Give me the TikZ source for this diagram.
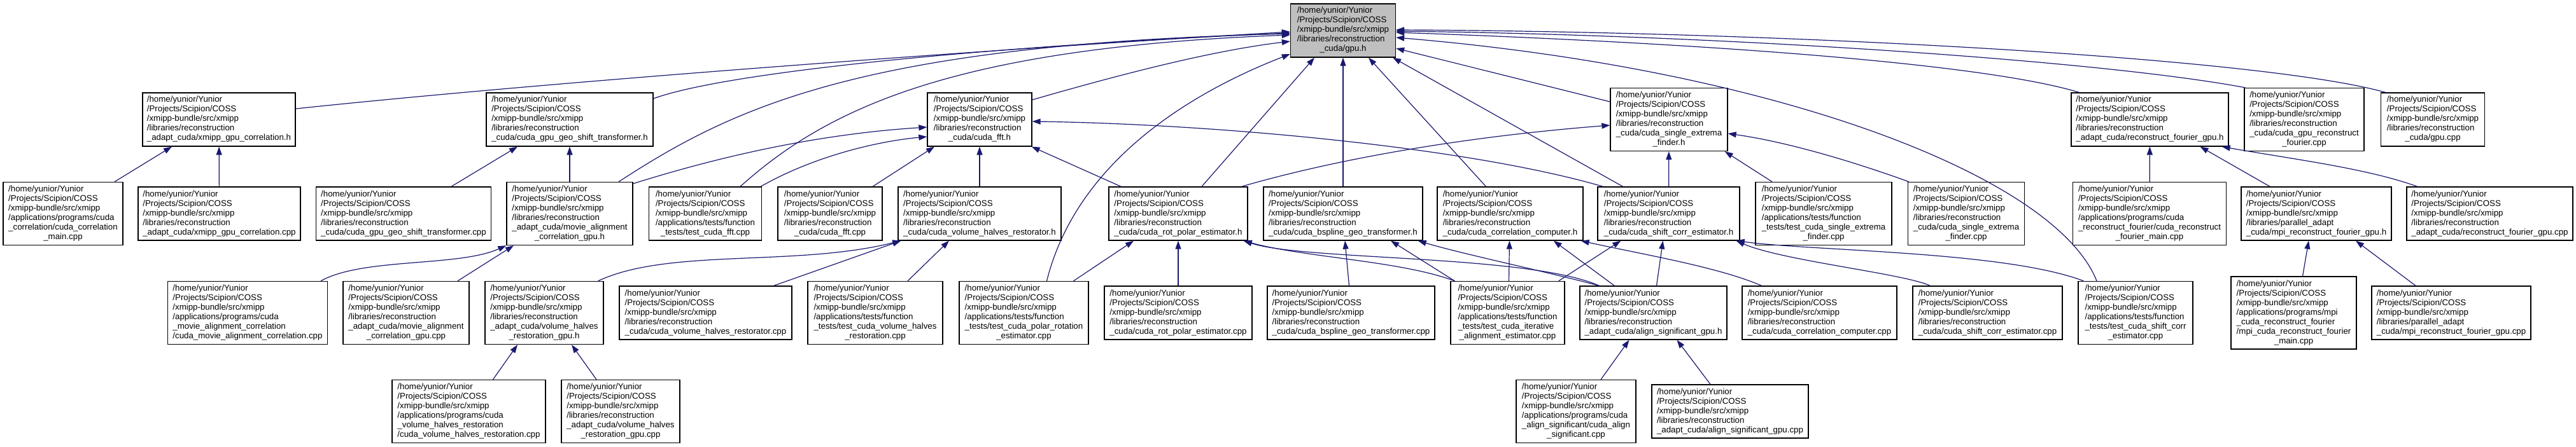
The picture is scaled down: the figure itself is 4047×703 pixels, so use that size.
\documentclass[tikz,border=0pt]{standalone}
\usepackage{fontspec}
\setmainfont{Liberation Sans}
\usetikzlibrary{calc,arrows.meta}
\definecolor{edgeblue}{HTML}{191970}
\definecolor{rootgrey}{HTML}{BFBFBF}
\newcommand{\lab}[2]{\begin{tabular}{@{}l@{}}/home/yunior/Yunior\\/Projects/Scipion/COSS\\/xmipp-bundle/src/xmipp\\#1\multicolumn{1}{@{}c@{}}{#2}\end{tabular}}
\begin{document}
\begin{tikzpicture}[x=1pt,y=-1pt,
  filebox/.style={draw=black, line width=1.3pt, fill=white, inner xsep=6pt, inner ysep=0pt,
    font=\fontsize{13.3}{15}\selectfont},
  fb/.style 2 args={filebox, minimum width=#1pt, minimum height=#2pt},
  dep/.style={draw=edgeblue, line width=1.2pt, -{Triangle[length=13pt,width=9pt]}}]
\fill[white] (0,0) rectangle (4047,703);
\useasboundingbox (0,0) rectangle (4047,703);

% ---------- row 0 ----------
\node[fb={165}{84}, fill=rootgrey] (root) at (2110,48) {\lab{/libraries/reconstruction\\}{\_cuda/gpu.h}};

% ---------- row 1 ----------
\node[fb={240}{84}] (xgch) at (344,188) {\lab{/libraries/reconstruction\\}{\_adapt\_cuda/xmipp\_gpu\_correlation.h}};
\node[fb={262}{84}] (geoh) at (895,188) {\lab{/libraries/reconstruction\\}{\_cuda/cuda\_gpu\_geo\_shift\_transformer.h}};
\node[fb={164}{84}] (ffth) at (1539,188) {\lab{/libraries/reconstruction\\}{\_cuda/cuda\_fft.h}};
\node[fb={184}{99}] (sefh) at (2622,188) {\lab{/libraries/reconstruction\\\_cuda/cuda\_single\_extrema\\}{\_finder.h}};
\node[fb={247}{84}] (rfgh) at (3377.5,188) {\lab{/libraries/reconstruction\\}{\_adapt\_cuda/reconstruct\_fourier\_gpu.h}};
\node[fb={188}{99}] (cgrfc) at (3620,188) {\lab{/libraries/reconstruction\\\_cuda/cuda\_gpu\_reconstruct\\}{\_fourier.cpp}};
\node[fb={163}{84}] (gpuc) at (3822,188) {\lab{/libraries/reconstruction\\}{\_cuda/gpu.cpp}};

% ---------- row 2 ----------
\node[fb={188}{99}] (ccmc) at (99,336) {\lab{/applications/programs/cuda\\\_correlation/cuda\_correlation\\}{\_main.cpp}};
\node[fb={255}{84}] (xgcc) at (344.5,336) {\lab{/libraries/reconstruction\\}{\_adapt\_cuda/xmipp\_gpu\_correlation.cpp}};
\node[fb={275}{84}] (geoc) at (634,336) {\lab{/libraries/reconstruction\\}{\_cuda/cuda\_gpu\_geo\_shift\_transformer.cpp}};
\node[fb={198}{99}] (mach) at (895,336) {\lab{/libraries/reconstruction\\\_adapt\_cuda/movie\_alignment\\}{\_correlation\_gpu.h}};
\node[fb={177}{84}] (tfftc) at (1108,336) {\lab{/applications/tests/function\\}{\_tests/test\_cuda\_fft.cpp}};
\node[fb={164}{84}] (fftc) at (1304,336) {\lab{/libraries/reconstruction\\}{\_cuda/cuda\_fft.cpp}};
\node[fb={256}{84}] (vhrh) at (1539,336) {\lab{/libraries/reconstruction\\}{\_cuda/cuda\_volume\_halves\_restorator.h}};
\node[fb={218}{84}] (rpeh) at (1851,336) {\lab{/libraries/reconstruction\\}{\_cuda/cuda\_rot\_polar\_estimator.h}};
\node[fb={250}{84}] (bsph) at (2110,336) {\lab{/libraries/reconstruction\\}{\_cuda/cuda\_bspline\_geo\_transformer.h}};
\node[fb={229}{84}] (ccch) at (2372.5,336) {\lab{/libraries/reconstruction\\}{\_cuda/cuda\_correlation\_computer.h}};
\node[fb={223}{84}] (sceh) at (2621.5,336) {\lab{/libraries/reconstruction\\}{\_cuda/cuda\_shift\_corr\_estimator.h}};
\node[fb={214}{99}] (tsefc) at (2865,336) {\lab{/applications/tests/function\\\_tests/test\_cuda\_single\_extrema\\}{\_finder.cpp}};
\node[fb={183}{99}] (sefc) at (3089,336) {\lab{/libraries/reconstruction\\\_cuda/cuda\_single\_extrema\\}{\_finder.cpp}};
\node[fb={241}{99}] (crfmc) at (3377,336) {\lab{/applications/programs/cuda\\\_reconstruct\_fourier/cuda\_reconstruct\\}{\_fourier\_main.cpp}};
\node[fb={236}{84}] (mrfgh) at (3639,336) {\lab{/libraries/parallel\_adapt\\}{\_cuda/mpi\_reconstruct\_fourier\_gpu.h}};
\node[fb={261}{84}] (rfgc) at (3911.5,336) {\lab{/libraries/reconstruction\\}{\_adapt\_cuda/reconstruct\_fourier\_gpu.cpp}};

% ---------- row 3 ----------
\node[fb={251}{99}] (cmacc) at (389,492) {\lab{/applications/programs/cuda\\\_movie\_alignment\_correlation\\}{/cuda\_movie\_alignment\_correlation.cpp}};
\node[fb={198}{99}] (macgc) at (638,492) {\lab{/libraries/reconstruction\\\_adapt\_cuda/movie\_alignment\\}{\_correlation\_gpu.cpp}};
\node[fb={186}{99}] (vhrgh) at (855,492) {\lab{/libraries/reconstruction\\\_adapt\_cuda/volume\_halves\\}{\_restoration\_gpu.h}};
\node[fb={271}{84}] (vhrc) at (1108.5,492) {\lab{/libraries/reconstruction\\}{\_cuda/cuda\_volume\_halves\_restorator.cpp}};
\node[fb={212}{99}] (tvhrc) at (1375,492) {\lab{/applications/tests/function\\\_tests/test\_cuda\_volume\_halves\\}{\_restoration.cpp}};
\node[fb={203}{99}] (tprec) at (1608.5,492) {\lab{/applications/tests/function\\\_tests/test\_cuda\_polar\_rotation\\}{\_estimator.cpp}};
\node[fb={232}{84}] (rpec) at (1851,492) {\lab{/libraries/reconstruction\\}{\_cuda/cuda\_rot\_polar\_estimator.cpp}};
\node[fb={263}{84}] (bspc) at (2122.5,492) {\lab{/libraries/reconstruction\\}{\_cuda/cuda\_bspline\_geo\_transformer.cpp}};
\node[fb={179}{99}] (tiaec) at (2368.5,492) {\lab{/applications/tests/function\\\_tests/test\_cuda\_iterative\\}{\_alignment\_estimator.cpp}};
\node[fb={231}{84}] (asgh) at (2597.5,492) {\lab{/libraries/reconstruction\\}{\_adapt\_cuda/align\_significant\_gpu.h}};
\node[fb={243}{84}] (cccc) at (2858.5,492) {\lab{/libraries/reconstruction\\}{\_cuda/cuda\_correlation\_computer.cpp}};
\node[fb={235}{84}] (scec) at (3122.5,492) {\lab{/libraries/reconstruction\\}{\_cuda/cuda\_shift\_corr\_estimator.cpp}};
\node[fb={180}{99}] (tscec) at (3355,492) {\lab{/applications/tests/function\\\_tests/test\_cuda\_shift\_corr\\}{\_estimator.cpp}};
\node[fb={197}{114}] (mcrfmc) at (3603.5,492) {\lab{/applications/programs/mpi\\\_cuda\_reconstruct\_fourier\\/mpi\_cuda\_reconstruct\_fourier\\}{\_main.cpp}};
\node[fb={250}{84}] (mrfgc) at (3851,492) {\lab{/libraries/parallel\_adapt\\}{\_cuda/mpi\_reconstruct\_fourier\_gpu.cpp}};

% ---------- row 4 ----------
\node[fb={241}{99}] (cvhrc) at (736.5,647) {\lab{/applications/programs/cuda\\\_volume\_halves\_restoration\\}{/cuda\_volume\_halves\_restoration.cpp}};
\node[fb={186}{99}] (vhrgc) at (975,647) {\lab{/libraries/reconstruction\\\_adapt\_cuda/volume\_halves\\}{\_restoration\_gpu.cpp}};
\node[fb={188}{99}] (casc) at (2476,647) {\lab{/applications/programs/cuda\\\_align\_significant/cuda\_align\\}{\_significant.cpp}};
\node[fb={246}{84}] (asgc) at (2718,647) {\lab{/libraries/reconstruction\\}{\_adapt\_cuda/align\_significant\_gpu.cpp}};

% ---------- edges into gpu.h ----------
\draw[dep] ($(xgch.east)+(0,-17)$) .. controls (900,125) and (1600,75) .. ($(root.west)+(0,2)$);
\draw[dep] ($(geoh.east)+(0,-33)$) .. controls (1150,110) and (1600,70) .. ($(root.west)+(0,4)$);
\draw[dep] ($(mach.north)+(77,0)$) .. controls (1150,170) and (1350,70) .. ($(root.west)+(0,5)$);
\draw[dep] ($(tfftc.north)+(55,0)$) .. controls (1300,170) and (1500,75) .. ($(root.west)+(0,7)$);
\draw[dep] ($(ffth.east)+(0,-31)$) .. controls (1750,120) and (1900,80) .. ($(root.west)+(0,17)$);
\draw[dep] ($(tprec.north)+(36,0)$) .. controls (1690,260) and (1860,150) .. ($(root.west)+(0,37)$);
\draw[dep] ($(rpeh.north)+(37,0)$) -- ($(root.south)+(-45,0)$);
\draw[dep] (bsph) -- (root);
\draw[dep] ($(ccch.north)+(-38,0)$) -- ($(root.south)+(40,0)$);
\draw[dep] ($(sceh.north)+(-72,0)$) -- ($(root.south east)+(-5,0)$);
\draw[dep] ($(sefh.west)+(0,-28)$) -- ($(root.east)+(0,28)$);
\draw[dep] ($(tscec.north)+(-61,0)$) .. controls (3230,280) and (2800,110) .. ($(root.east)+(0,11)$);
\draw[dep] ($(rfgh.north)+(-111,0)$) .. controls (3100,95) and (2600,65) .. ($(root.east)+(0,3)$);
\draw[dep] ($(cgrfc.north west)+(2,0)$) .. controls (3300,95) and (2700,55) .. ($(root.east)+(0,1)$);
\draw[dep] ($(gpuc.north west)+(8,0)$) .. controls (3550,90) and (2800,50) .. ($(root.east)+(0,-1)$);

% ---------- row 2 -> row 1 ----------
\draw[dep] ($(ccmc.north)+(81,0)$) -- ($(xgch.south)+(-74,0)$);
\draw[dep] (xgcc) -- (xgch);
\draw[dep] ($(geoc.north)+(75,0)$) -- ($(geoh.south)+(-82,0)$);
\draw[dep] (mach) -- (geoh);
\draw[dep] ($(mach.north east)+(0,3)$) .. controls (1150,240) and (1300,210) .. ($(ffth.west)+(0,12)$);
\draw[dep] ($(tfftc.north east)+(-2,0)$) .. controls (1280,245) and (1380,222) .. ($(ffth.west)+(0,27)$);
\draw[dep] ($(fftc.north)+(67,0)$) -- ($(ffth.south)+(-71,0)$);
\draw[dep] (vhrh) -- (ffth);
\draw[dep] ($(rpeh.north)+(-90,0)$) -- ($(ffth.south east)+(-1,0)$);
\draw[dep] ($(sceh.north west)+(9,0)$) .. controls (2300,230) and (1900,195) .. ($(ffth.east)+(0,3)$);
\draw[dep] ($(rpeh.north east)+(-10,0)$) .. controls (2100,250) and (2300,215) .. ($(sefh.west)+(0,9)$);
\draw[dep] (sceh) -- (sefh);
\draw[dep] ($(tsefc.north)+(-81,0)$) -- ($(sefh.south east)+(-5,0)$);
\draw[dep] ($(sefc.north west)+(2,0)$) .. controls (2900,250) and (2800,222) .. ($(sefh.east)+(0,22)$);
\draw[dep] (crfmc) -- (rfgh);
\draw[dep] ($(mrfgh.north)+(-73,0)$) -- ($(rfgh.south)+(79,0)$);
\draw[dep] ($(rfgc.north)+(-114,0)$) .. controls (3720,265) and (3600,250) .. ($(rfgh.south east)+(-11,0)$);

% ---------- row 3 -> row 2 ----------
\draw[dep] ($(cmacc.north)+(115,0)$) .. controls (570,405) and (720,420) .. (mach.south west);
\draw[dep] ($(macgc.north)+(81,0)$) -- ($(mach.south)+(-88,0)$);
\draw[dep] ($(vhrgh.north east)+(-9,0)$) .. controls (1050,390) and (1250,420) .. ($(vhrh.south west)+(5,0)$);
\draw[dep] ($(vhrc.north)+(107,0)$) -- ($(vhrh.south west)+(5,0)$);
\draw[dep] ($(tvhrc.north)+(51,0)$) -- ($(vhrh.south)+(-48,0)$);
\draw[dep] ($(tprec.north)+(78,0)$) -- ($(rpeh.south)+(-70,0)$);
\draw[dep] (rpec) -- (rpeh);
\draw[dep] ($(tiaec.north west)+(7,0)$) .. controls (2200,410) and (2050,405) .. ($(rpeh.south east)+(-7,0)$);
\draw[dep] ($(asgh.north west)+(31,0)$) .. controls (2400,400) and (2050,410) .. ($(rpeh.south east)+(-7,0)$);
\draw[dep] ($(bspc.north)+(-3,0)$) -- ($(bsph.south)+(3,0)$);
\draw[dep] ($(tiaec.north west)+(7,0)$) -- ($(bsph.south)+(75,0)$);
\draw[dep] ($(asgh.north west)+(31,0)$) .. controls (2420,425) and (2300,400) .. ($(bsph.south east)+(-8,0)$);
\draw[dep] ($(tiaec.north)+(2,0)$) -- ($(ccch.south)+(-1,0)$);
\draw[dep] ($(asgh.north west)+(55,0)$) -- ($(ccch.south east)+(-47,0)$);
\draw[dep] ($(cccc.north)+(-91,0)$) .. controls (2700,420) and (2580,400) .. ($(ccch.south east)+(-4,0)$);
\draw[dep] ($(tiaec.north east)+(-10,0)$) -- ($(sceh.south west)+(37,0)$);
\draw[dep] ($(asgh.north)+(5,0)$) -- ($(sceh.south)+(-9,0)$);
\draw[dep] ($(scec.north west)+(28,0)$) .. controls (2990,430) and (2800,410) .. ($(sceh.south east)+(-6,0)$);
\draw[dep] ($(tscec.north west)+(9,0)$) .. controls (3150,395) and (2850,395) .. ($(sceh.south east)+(-6,0)$);
\draw[dep] ($(mcrfmc.north)+(14,0)$) -- ($(mrfgh.south)+(-12,0)$);
\draw[dep] ($(mrfgc.north)+(-56,0)$) -- ($(mrfgh.south)+(62,0)$);

% ---------- row 4 -> row 3 ----------
\draw[dep] ($(cvhrc.north)+(38,0)$) -- ($(vhrgh.south)+(-42,0)$);
\draw[dep] ($(vhrgc.north)+(-38,0)$) -- ($(vhrgh.south)+(43,0)$);
\draw[dep] ($(casc.north)+(39,0)$) -- ($(asgh.south)+(-38,0)$);
\draw[dep] ($(asgc.north)+(-31,0)$) -- ($(asgh.south)+(37,0)$);
\end{tikzpicture}
\end{document}
